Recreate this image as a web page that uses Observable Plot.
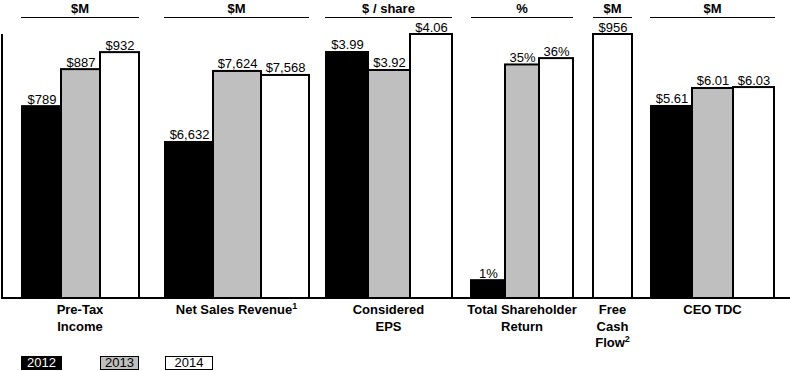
<!DOCTYPE html>
<html>
<head>
<meta charset="utf-8">
<script src="https://cdn.jsdelivr.net/npm/d3@7"></script>
<script src="https://cdn.jsdelivr.net/npm/@observablehq/plot@0.6"></script>
<style>
  html, body { margin: 0; padding: 0; background: #fff; }
  body { font-family: "Liberation Sans", Arial, sans-serif; }
  #chart { position: relative; width: 790px; height: 371px; overflow: hidden; background: #fff; }
  .abs { position: absolute; }
  .unit { top: 0; height: 17px; line-height: 17px; border-bottom: 1px solid #000; text-align: center; font-weight: bold; font-size: 13px; }
  .cat { top: 302px; width: 180px; text-align: center; font-weight: bold; font-size: 13px; line-height: 16.5px; white-space: nowrap; }
  .cat sup { font-size: 9px; line-height: 0; vertical-align: 5px; }
  .frame { left: 1px; top: 34px; width: 789px; height: 263px; border-left: 2px solid #000; border-bottom: 2px solid #000; }
  .leg { top: 356px; height: 14px; line-height: 14px; text-align: center; font-size: 13px; box-sizing: border-box; }
</style>
</head>
<body>
<div id="chart"></div>
<script>
// ---- data ----
const categories = ["Pre-Tax Income", "Net Sales Revenue", "Considered EPS", "Total Shareholder Return", "Free Cash Flow", "CEO TDC"];
const categoryLines = [["Pre-Tax", "Income"], ["Net Sales Revenue"], ["Considered", "EPS"], ["Total Shareholder", "Return"], ["Free", "Cash", "Flow"], ["CEO TDC"]];
const footnotes = [null, "1", null, null, "2", null];
const units = ["$M", "$M", "$ / share", "%", "$M", "$M"];
const years = ["2012", "2013", "2014"];
const values2012 = [789, 6632, 3.99, 1, null, 5.61];
const values2013 = [887, 7624, 3.92, 35, null, 6.01];
const values2014 = [932, 7568, 4.06, 36, 956, 6.03];
const valueFormats = ["$,.0f", "$,.0f", "$.2f", ".0f%", "$,.0f", "$.2f"];

// ---- layout / scale config ----
const layout = [
  {x: 21, w: 118, domain: [281, 980]},
  {x: 164, w: 145, domain: [4453, 8140]},
  {x: 325, w: 127, domain: [3.033, 4.06]},
  {x: 471, w: 102, domain: [-1.81, 39.8]},
  {x: 593, w: 39, domain: [0, 956]},
  {x: 650, w: 125, domain: [1.34, 7.21]}
];
const fills = ["#000000", "#bfbfbf", "#ffffff"];
const FONT = '"Liberation Sans", Arial, sans-serif';

function fmt(spec, v) {
  if (spec.endsWith("%")) return d3.format(spec.slice(0, -1))(v) + "%";
  return d3.format(spec)(v);
}

const chart = document.getElementById("chart");

// frame: left axis + baseline
const frame = document.createElement("div");
frame.className = "abs frame";
chart.appendChild(frame);

const series = [values2012, values2013, values2014];

categories.forEach((cat, i) => {
  const L = layout[i];
  const data = years.map((yr, j) => ({year: yr, value: series[j][i]}))
    .filter(d => d.value != null)
    .map(d => ({...d, label: fmt(valueFormats[i], d.value)}));
  const pad = 2;
  const plot = Plot.plot({
    width: L.w + 2 * pad,
    height: 300,
    marginTop: 34,
    marginBottom: 2,
    marginLeft: pad,
    marginRight: pad,
    style: {background: "transparent", overflow: "visible", fontFamily: FONT, fontSize: "13px"},
    x: {type: "band", domain: data.map(d => d.year), padding: 0, axis: null},
    y: {domain: L.domain, axis: null},
    color: {domain: years, range: fills},
    marks: [
      Plot.barY(data, {x: "year", y1: L.domain[0], y2: "value", fill: "year", stroke: "#000", strokeWidth: 2, inset: 0}),
      Plot.text(data, {x: "year", y: "value", text: "label", lineAnchor: "bottom", dy: -3, fontSize: 13, fill: "#000"})
    ]
  });
  plot.style.position = "absolute";
  plot.style.left = (L.x - pad) + "px";
  plot.style.top = "0px";
  plot.style.maxWidth = "none";
  chart.appendChild(plot);

  // unit header
  const u = document.createElement("div");
  u.className = "abs unit";
  u.style.left = L.x + "px";
  u.style.width = L.w + "px";
  u.textContent = units[i];
  chart.appendChild(u);

  // category label
  const c = document.createElement("div");
  c.className = "abs cat";
  c.style.left = (L.x + L.w / 2 - 90) + "px";
  const lines = categoryLines[i].slice();
  lines.forEach((ln, k) => {
    const s = document.createElement("div");
    s.textContent = ln;
    if (k === lines.length - 1 && footnotes[i]) {
      const sup = document.createElement("sup");
      sup.textContent = footnotes[i];
      s.appendChild(sup);
    }
    c.appendChild(s);
  });
  chart.appendChild(c);
});

// legend
const legendPos = [{x: 21, w: 41}, {x: 100, w: 39}, {x: 165, w: 48}];
years.forEach((yr, j) => {
  const d = document.createElement("div");
  d.className = "abs leg";
  d.style.left = legendPos[j].x + "px";
  d.style.width = legendPos[j].w + "px";
  d.style.background = fills[j];
  d.style.color = j === 0 ? "#fff" : "#000";
  d.style.border = "1px solid #000";
  d.style.lineHeight = "12px";
  d.textContent = yr;
  chart.appendChild(d);
});
</script>
</body>
</html>
